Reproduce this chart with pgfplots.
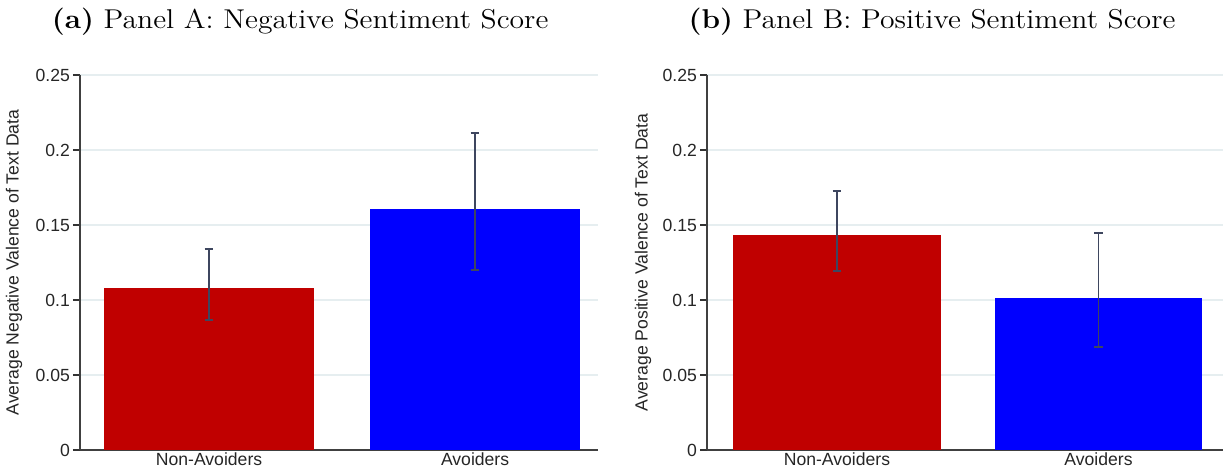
\documentclass[border=0pt]{standalone}
\usepackage{fontspec}
\newfontfamily\arialfont{Liberation Sans}
\usepackage{pgfplots}
\pgfplotsset{compat=1.18}

\definecolor{barred}{RGB}{192,0,0}
\definecolor{barblue}{RGB}{0,0,255}
\definecolor{errcol}{RGB}{62,70,95}
\definecolor{gridcol}{RGB}{230,238,240}

\pgfplotsset{
  sentiment/.style={
    scale only axis, height=187.5pt,
    ymin=0, ymax=0.25,
    ytick={0,0.05,0.1,0.15,0.2,0.25},
    yticklabels={0,0.05,0.1,0.15,0.2,0.25},
    xtick={1,2}, xticklabels={Non-Avoiders,Avoiders},
    axis x line*=bottom, axis y line*=left,
    axis line style={black!75, line width=0.75pt, -},
    tick align=outside,
    major tick length=3.5pt,
    x tick style={draw=none},
    y tick style={black!80, line width=0.6pt},
    ymajorgrids, grid style={gridcol, line width=0.6pt},
    tick label style={font=\arialfont\fontsize{8.8}{10}\selectfont, text=black!85},
    xticklabel style={yshift=5.5pt},
    yticklabel style={xshift=2pt},
    label style={font=\arialfont\fontsize{8.8}{10}\selectfont, text=black!85},
    ylabel style={at={(axis description cs:0,0.5)}, anchor=center},
  },
  paneltitle/.style={every axis title/.style={at={(#1,1)}, anchor=center,
    yshift=26.5pt, xscale=1.09, font=\fontsize{13.6}{16}\selectfont}},
  errstyle/.style={
    error bars/.cd, y dir=both, y explicit,
    error bar style={errcol, line width=0.75pt},
    error mark options={rotate=90, errcol, line width=0.75pt, mark size=2.2pt}},
}

\begin{document}
\begin{tikzpicture}
\path[use as bounding box] (0,0) rectangle (612.5pt,237.5pt);

% Panel A: negative sentiment
\begin{axis}[sentiment, at={(40pt,12.5pt)}, anchor=south west,
  width=259pt, xmin=0.515, xmax=2.462,
  ylabel={Average Negative Valence of Text Data},
  ylabel style={yshift=33pt},
  title={\textbf{(a)} Panel A: Negative Sentiment Score},
  paneltitle=0.425]
\addplot[ybar, bar shift=0pt, bar width=0.79, fill=barred, draw=none, errstyle]
  coordinates {(1,0.108) += (0,0.026) -= (0,0.0213)};
\addplot[ybar, bar shift=0pt, bar width=0.79, fill=barblue, draw=none, errstyle]
  coordinates {(2,0.1607) += (0,0.0506) -= (0,0.0407)};
\end{axis}

% Panel B: positive sentiment
\begin{axis}[sentiment, at={(353.5pt,12.5pt)}, anchor=south west,
  width=258pt, xmin=0.503, xmax=2.476,
  ylabel={Average Positive Valence of Text Data},
  ylabel style={yshift=32pt},
  title={\textbf{(b)} Panel B: Positive Sentiment Score},
  paneltitle=0.436]
\addplot[ybar, bar shift=0pt, bar width=0.795, fill=barred, draw=none, errstyle]
  coordinates {(1,0.1433) += (0,0.0294) -= (0,0.0240)};
\addplot[ybar, bar shift=0pt, bar width=0.795, fill=barblue, draw=none, errstyle]
  coordinates {(2,0.1013) += (0,0.0434) -= (0,0.0326)};
\end{axis}
\end{tikzpicture}
\end{document}
